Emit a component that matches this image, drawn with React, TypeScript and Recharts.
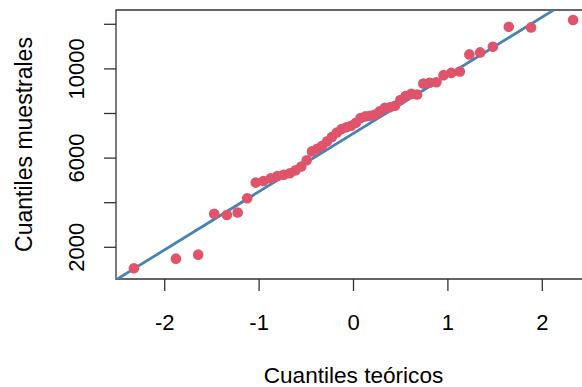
import React from 'react';
import {
  ScatterChart,
  Scatter,
  XAxis,
  YAxis,
  ReferenceLine,
  ReferenceArea,
} from 'recharts';

// theoretical normal quantiles (n = 50)
const theoretical: number[] = [
  -2.326, -1.881, -1.645, -1.476, -1.341, -1.227, -1.126, -1.036, -0.954, -0.878,
  -0.806, -0.739, -0.674, -0.613, -0.553, -0.496, -0.44, -0.385, -0.332, -0.279,
  -0.228, -0.176, -0.126, -0.075, -0.025, 0.025, 0.075, 0.126, 0.176, 0.228,
  0.279, 0.332, 0.385, 0.44, 0.496, 0.553, 0.613, 0.674, 0.739, 0.806,
  0.878, 0.954, 1.036, 1.126, 1.227, 1.341, 1.476, 1.645, 1.881, 2.326,
];

// sorted sample values
const sample: number[] = [
  1060, 1490, 1670, 3500, 3450, 3560, 4200, 4900, 4970, 5090,
  5200, 5250, 5320, 5450, 5620, 5900, 6300, 6420, 6550, 6750,
  6950, 7150, 7300, 7380, 7450, 7580, 7800, 7870, 7900, 7950,
  8100, 8250, 8280, 8350, 8600, 8780, 8880, 8850, 9340, 9380,
  9400, 9720, 9820, 9880, 10650, 10740, 10990, 11890, 11860, 12190,
];

// qqline end points (data space)
const lineX: number[] = [-2.6, 2.6];
const lineY: number[] = [324, 13890];

const xTicks: number[] = [-2, -1, 0, 1, 2];
const yTicks: number[] = [2000, 4000, 6000, 8000, 10000, 12000];
const yLabeled: number[] = [2000, 6000, 10000];

const xDomain: [number, number] = [-2.516, 2.516];
const yDomain: [number, number] = [578, 12641];

const points = theoretical.map((q, i) => ({ x: q, y: sample[i] }));

const FONT = '"Liberation Sans", Arial, sans-serif';

const XTick = (props: any) => {
  const { x, payload } = props;
  return (
    <text x={x} y={330} textAnchor="middle" fontSize={22} fontFamily={FONT} fill="#000">
      {payload.value}
    </text>
  );
};

const YTick = (props: any) => {
  const { y, payload } = props;
  if (!yLabeled.includes(payload.value)) return null;
  return (
    <text
      transform={`translate(83.5,${y}) rotate(-90)`}
      textAnchor="middle"
      fontSize={22}
      fontFamily={FONT}
      fill="#000"
    >
      {payload.value}
    </text>
  );
};

const Dot = (props: any) => (
  <circle cx={props.cx} cy={props.cy} r={5.3} fill="#DF536B" />
);

export default function App() {
  return (
    <div
      style={{
        position: 'absolute',
        left: 0,
        top: 0,
        width: 582,
        height: 387,
        overflow: 'hidden',
        background: '#fff',
      }}
    >
      <ScatterChart width={600} height={387} margin={{ top: 10, right: 9, left: 0, bottom: 0 }}>
        <XAxis
          type="number"
          dataKey="x"
          domain={xDomain}
          ticks={xTicks}
          allowDataOverflow
          axisLine={false}
          tickSize={12}
          tickLine={{ stroke: '#333', strokeWidth: 1.3 }}
          tick={<XTick />}
          height={108}
          label={{
            content: (p: any) => (
              <text
                x={p.viewBox.x + p.viewBox.width / 2}
                y={383}
                textAnchor="middle"
                fontSize={22.6}
                fontFamily={FONT}
                fill="#000"
              >
                Cuantiles teóricos
              </text>
            ),
          }}
        />
        <YAxis
          type="number"
          dataKey="y"
          domain={yDomain}
          ticks={yTicks}
          allowDataOverflow
          axisLine={false}
          tickSize={12}
          tickLine={{ stroke: '#333', strokeWidth: 1.3 }}
          tick={<YTick />}
          width={116}
          label={{
            content: (p: any) => (
              <text
                transform={`translate(31.5,${p.viewBox.y + p.viewBox.height / 2}) rotate(-90)`}
                textAnchor="middle"
                fontSize={23}
                fontFamily={FONT}
                fill="#000"
              >
                Cuantiles muestrales
              </text>
            ),
          }}
        />
        <Scatter data={points} shape={<Dot />} isAnimationActive={false} />
        <ReferenceLine
          segment={[
            { x: lineX[0], y: lineY[0] },
            { x: lineX[1], y: lineY[1] },
          ]}
          stroke="#4682B4"
          strokeWidth={2.8}
          ifOverflow="hidden"
        />
        <ReferenceArea
          x1={xDomain[0]}
          x2={xDomain[1]}
          y1={yDomain[0]}
          y2={yDomain[1]}
          fill="none"
          fillOpacity={0}
          stroke="#333"
          strokeWidth={1.3}
          ifOverflow="visible"
        />
      </ScatterChart>
    </div>
  );
}
